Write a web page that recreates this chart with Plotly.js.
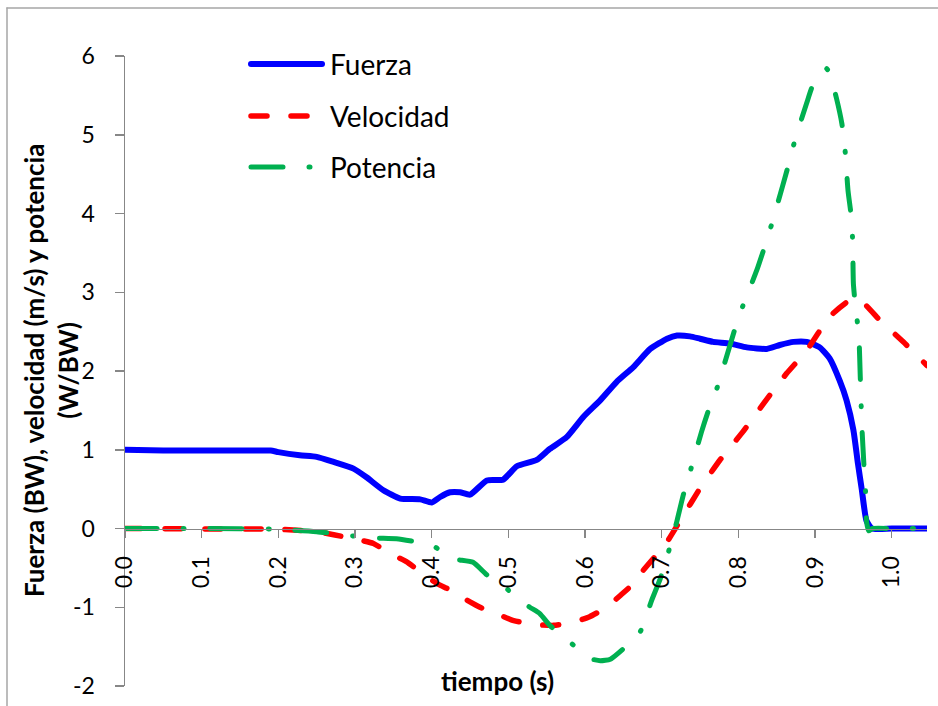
<!DOCTYPE html>
<html><head><meta charset="utf-8">
<script src="https://cdn.plot.ly/plotly-3.0.1.min.js"></script>
<style>
html,body{margin:0;padding:0;background:#fff;}
#chart{width:938px;height:706px;}
.scatterlayer .js-line, .shapelayer path{stroke-linecap:round;stroke-linejoin:round;}
</style></head><body><div id="chart"></div>
<script>
// Fuerza (BW)
const fuerzaT = [0, 0.05, 0.1, 0.15, 0.19, 0.2, 0.228, 0.25, 0.272, 0.298, 0.315, 0.337, 0.359, 0.385, 0.4, 0.411, 0.424, 0.437, 0.45, 0.472, 0.493, 0.511, 0.537, 0.554, 0.576, 0.598, 0.62, 0.641, 0.663, 0.685, 0.707, 0.72, 0.737, 0.75, 0.767, 0.789, 0.811, 0.837, 0.854, 0.872, 0.889, 0.906, 0.919, 0.932, 0.941, 0.95, 0.956, 0.961, 0.967, 0.974, 1.0, 1.046];
const fuerza = [1.0, 0.99, 0.99, 0.99, 0.99, 0.97, 0.93, 0.91, 0.845, 0.76, 0.65, 0.485, 0.38, 0.37, 0.33, 0.4, 0.46, 0.46, 0.43, 0.61, 0.62, 0.79, 0.87, 1.01, 1.16, 1.42, 1.63, 1.86, 2.05, 2.28, 2.41, 2.45, 2.44, 2.41, 2.37, 2.35, 2.3, 2.28, 2.33, 2.37, 2.37, 2.3, 2.16, 1.88, 1.63, 1.25, 0.82, 0.49, 0.1, 0.0, 0.0, 0.0];
// Velocidad (m/s)
const velT = [0, 0.1, 0.2, 0.25, 0.298, 0.324, 0.346, 0.367, 0.385, 0.407, 0.424, 0.446, 0.463, 0.489, 0.507, 0.537, 0.559, 0.585, 0.606, 0.628, 0.646, 0.663, 0.676, 0.698, 0.707, 0.726, 0.75, 0.776, 0.806, 0.833, 0.863, 0.889, 0.919, 0.946, 0.961, 0.985, 1.015, 1.046];
const velocidad = [0, -0.005, -0.01, -0.04, -0.13, -0.19, -0.32, -0.42, -0.55, -0.7, -0.78, -0.91, -1.0, -1.1, -1.17, -1.22, -1.23, -1.19, -1.12, -1.0, -0.85, -0.7, -0.53, -0.28, -0.17, 0.13, 0.51, 0.87, 1.23, 1.59, 1.97, 2.26, 2.69, 2.9, 2.88, 2.64, 2.37, 2.07];
// Potencia (W/BW)
const potT = [0, 0.1, 0.2, 0.25, 0.293, 0.324, 0.354, 0.38, 0.402, 0.426, 0.454, 0.472, 0.489, 0.509, 0.528, 0.541, 0.554, 0.574, 0.593, 0.606, 0.62, 0.633, 0.653, 0.672, 0.687, 0.698, 0.707, 0.72, 0.728, 0.737, 0.752, 0.761, 0.772, 0.796, 0.806, 0.824, 0.834, 0.843, 0.858, 0.866, 0.874, 0.889, 0.898, 0.915, 0.92, 0.928, 0.935, 0.939, 0.943, 0.947, 0.949, 0.95, 0.953, 0.957, 0.959, 0.961, 0.964, 0.966, 0.967, 0.97, 0.975, 1.0, 1.046];
const potencia = [0, 0, -0.01, -0.04, -0.09, -0.12, -0.13, -0.17, -0.22, -0.38, -0.43, -0.59, -0.68, -0.87, -1.0, -1.08, -1.23, -1.39, -1.55, -1.65, -1.68, -1.66, -1.5, -1.31, -0.91, -0.64, -0.36, 0.1, 0.42, 0.72, 1.23, 1.5, 1.78, 2.55, 2.83, 3.28, 3.57, 3.85, 4.36, 4.64, 4.94, 5.4, 5.65, 5.84, 5.75, 5.46, 5.14, 4.82, 4.29, 3.98, 3.66, 3.11, 2.79, 2.47, 1.92, 1.31, 0.76, 0.44, 0.1, -0.03, 0, 0, 0];

const seriesNames = ['Fuerza', 'Velocidad', 'Potencia'];
const yTickVals = [-2, -1, 0, 1, 2, 3, 4, 5, 6];
const yTickText = ['-2', '-1', '0', '1', '2', '3', '4', '5', '6'];
const xTickVals = [0, 0.1, 0.2, 0.3, 0.4, 0.5, 0.6, 0.7, 0.8, 0.9, 1.0];
const xTickText = ['0.0', '0.1', '0.2', '0.3', '0.4', '0.5', '0.6', '0.7', '0.8', '0.9', '1.0'];

const colors = ['#0000ff', '#ff0000', '#00b050'];
const dashes = ['solid', '16px,24px', '32px,26px,1px,26px'];
const widths = [6, 5.5, 5];

const traces = [
  {x: fuerzaT, y: fuerza, name: seriesNames[0]},
  {x: velT, y: velocidad, name: seriesNames[1]},
  {x: potT, y: potencia, name: seriesNames[2]}
].map((t, i) => Object.assign(t, {
  type: 'scatter', mode: 'lines', showlegend: false, hoverinfo: 'skip',
  line: {color: colors[i], width: widths[i], dash: dashes[i], shape: 'spline', smoothing: 0.5}
}));

const L = 125, R = 927, T = 56, B = 686;
const px2x = p => (p - L) / (R - L);
const px2y = p => (B - p) / (B - T);

const shapes = [
  // outer chart frame (left and top edges)
  {type: 'line', xref: 'paper', yref: 'paper', x0: px2x(7), x1: px2x(7), y0: px2y(720), y1: px2y(8), line: {color: '#a6a6a6', width: 1.5}},
  {type: 'line', xref: 'paper', yref: 'paper', x0: px2x(7), x1: px2x(945), y0: px2y(8), y1: px2y(8), line: {color: '#a6a6a6', width: 1.5}}
];
const annotations = [];
const legendRows = [64, 116, 167];
seriesNames.forEach((n, i) => {
  shapes.push({type: 'line', xref: 'paper', yref: 'paper', x0: px2x(251), x1: px2x(322), y0: px2y(legendRows[i]), y1: px2y(legendRows[i]),
    line: {color: colors[i], width: widths[i], dash: dashes[i]}});
  annotations.push({xref: 'paper', yref: 'paper', x: px2x(328), y: px2y(legendRows[i]), xanchor: 'left', yanchor: 'middle',
    text: n, showarrow: false, font: {family: 'Lato, sans-serif', size: 28, color: '#000'}});
});
annotations.push({xref: 'paper', yref: 'paper', x: px2x(497), y: px2y(681), xanchor: 'center', yanchor: 'middle',
  text: '<b>tiempo (s)</b>', showarrow: false, font: {family: 'Lato, sans-serif', size: 26, color: '#000'}});
annotations.push({xref: 'paper', yref: 'paper', x: px2x(51), y: px2y(371), xanchor: 'center', yanchor: 'middle', textangle: -90,
  text: '<b>Fuerza (BW), velocidad (m/s) y potencia<br>(W/BW)</b>', showarrow: false, font: {family: 'Lato, sans-serif', size: 26, color: '#000'}});

const layout = {
  width: 938, height: 706,
  margin: {l: L, r: 938 - R, t: T, b: 706 - B, pad: 0},
  paper_bgcolor: '#fff', plot_bgcolor: '#fff',
  font: {family: 'Lato, sans-serif', color: '#000'},
  xaxis: {
    range: [0, 1.046], anchor: 'free', position: 0.25,
    tickmode: 'array', tickvals: xTickVals, ticktext: xTickText, tickangle: -90,
    showgrid: false, zeroline: false, showline: true, linecolor: '#878787', linewidth: 1.5,
    ticks: 'outside', ticklen: 8, tickwidth: 1.5, tickcolor: '#878787', ticklabelstandoff: 9,
    tickfont: {family: 'Lato, sans-serif', size: 23, color: '#000'}, automargin: false
  },
  yaxis: {
    range: [-2, 6], tickmode: 'array', tickvals: yTickVals, ticktext: yTickText,
    showgrid: false, zeroline: false, showline: true, linecolor: '#878787', linewidth: 1.5,
    ticks: 'outside', ticklen: 9, tickwidth: 1.5, tickcolor: '#878787', ticklabelstandoff: 15,
    tickfont: {family: 'Lato, sans-serif', size: 23, color: '#000'}, automargin: false
  },
  showlegend: false,
  shapes: shapes,
  annotations: annotations
};

Plotly.newPlot('chart', traces, layout, {staticPlot: true, displayModeBar: false});
</script></body></html>
